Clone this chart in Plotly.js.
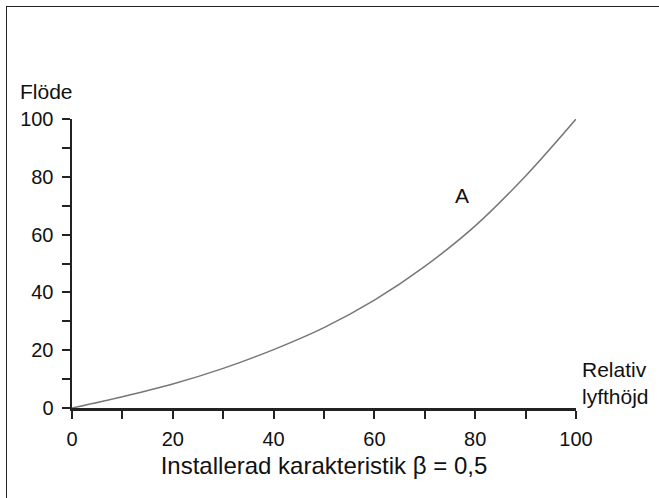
<!DOCTYPE html>
<html>
<head>
<meta charset="utf-8">
<script src="https://cdn.plot.ly/plotly-3.0.1.min.js"></script>
<style>
html,body{margin:0;padding:0;background:#fff;}
#wrap{position:relative;width:659px;height:498px;overflow:hidden;}
#frame{position:absolute;left:6px;top:6px;width:700px;height:600px;border-left:1.5px solid #222;border-top:1.5px solid #222;pointer-events:none;}
#chart{position:absolute;left:0;top:0;width:659px;height:498px;}
</style>
</head>
<body>
<div id="wrap"><div id="chart"></div><div id="frame"></div></div>
<script>
// Data
const lift = [0, 10, 20, 30, 40, 50, 60, 70, 80, 90, 100];
const flow = [0, 3.9, 8.3, 13.7, 20.2, 27.8, 37.3, 49.0, 63.0, 80.3, 100];
const tickVals = [0, 10, 20, 30, 40, 50, 60, 70, 80, 90, 100];
const tickText = ['0', '', '20', '', '40', '', '60', '', '80', '', '100'];
const curveLabel = 'A';
const xTitle = 'Installerad karakteristik β = 0,5';
const yTitle = 'Flöde';
const xUnitLabel = 'Relativ<br>lyfthöjd';

const font = 'Arial, "Liberation Sans", sans-serif';

const trace = {
  x: lift, y: flow, type: 'scatter', mode: 'lines',
  line: {color: '#777', width: 1.5, shape: 'spline', smoothing: 1},
  hoverinfo: 'skip', showlegend: false
};

const axisCommon = {
  range: [0, 100], showgrid: false, zeroline: false,
  showline: true, linecolor: '#222', linewidth: 2.5,
  ticks: 'outside', ticklen: 8, tickwidth: 2, tickcolor: '#222',
  tickmode: 'array', tickvals: tickVals, ticktext: tickText,
  tickfont: {family: font, size: 20, color: '#111'},
  fixedrange: true
};

const layout = {
  width: 659, height: 498,
  margin: {l: 72, r: 83, t: 119, b: 90},
  paper_bgcolor: '#fff', plot_bgcolor: '#fff',
  font: {family: font, color: '#111'},
  xaxis: Object.assign({}, axisCommon, {
    ticklabelstandoff: 3,
    title: {text: xTitle, font: {family: font, size: 24, color: '#111'}, standoff: 9}
  }),
  yaxis: Object.assign({}, axisCommon, {ticklabelstandoff: 4}),
  annotations: [
    {text: yTitle, xref: 'paper', yref: 'paper', x: -0.108, y: 1.0, xanchor: 'left', yanchor: 'bottom', yshift: 14,
     showarrow: false, font: {family: font, size: 21, color: '#111'}},
    {text: curveLabel, xref: 'x', yref: 'y', x: 77.3, y: 73.5, showarrow: false,
     font: {family: font, size: 21, color: '#111'}},
    {text: xUnitLabel, xref: 'paper', yref: 'paper', x: 1.008, y: 0.0, xanchor: 'left', yanchor: 'bottom', align: 'left',
     yshift: -2, showarrow: false, font: {family: font, size: 21, color: '#111'}}
  ]
};

Plotly.newPlot('chart', [trace], layout, {displayModeBar: false, staticPlot: true});
</script>
</body>
</html>
